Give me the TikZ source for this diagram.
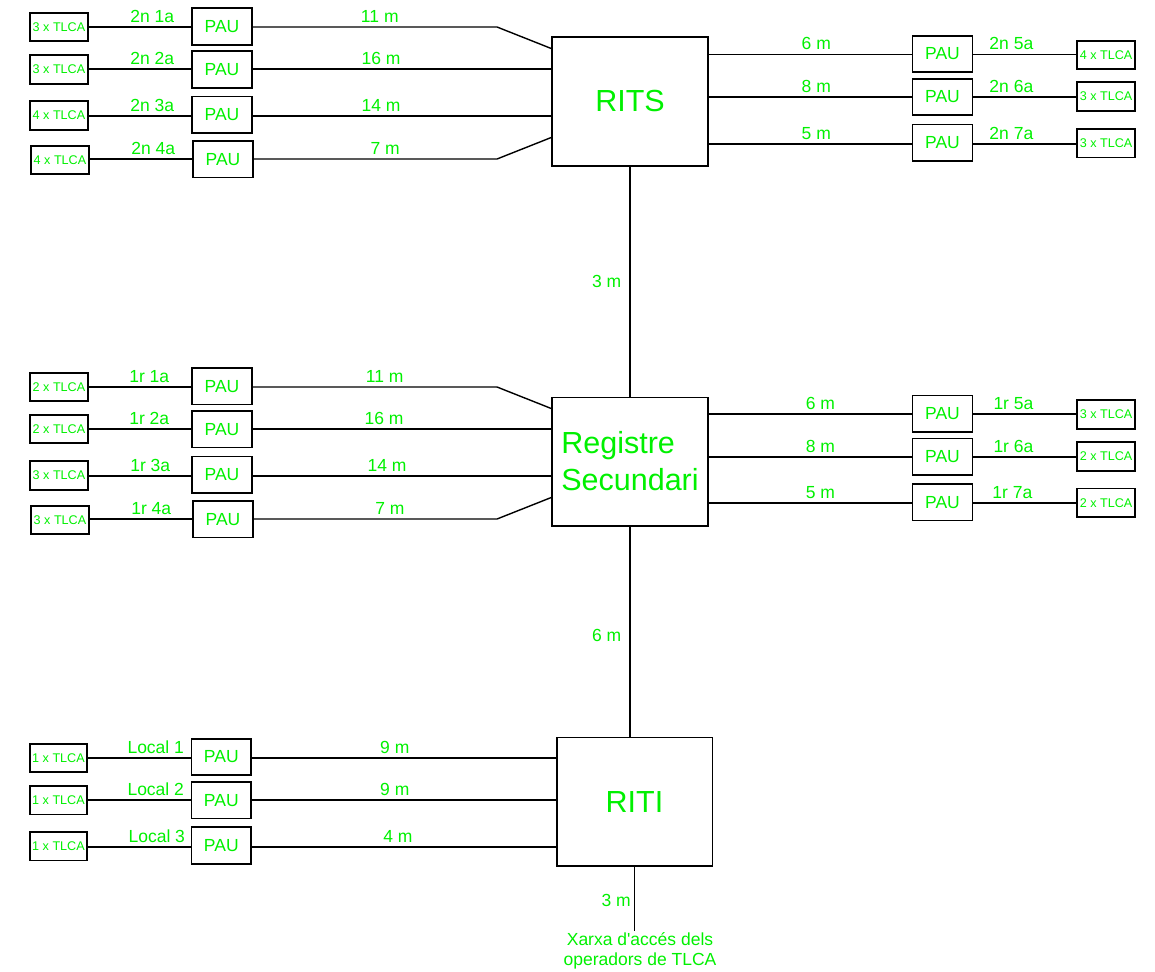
\documentclass[tikz,border=0pt]{standalone}
\usepackage{fontspec}
\setmainfont{Liberation Sans}
\usepackage{tikz}
\usetikzlibrary{positioning}
\definecolor{txtGreen}{HTML}{00F000}
\tikzset{
	tlca/.style={draw, line width=1.6pt, minimum width=58pt, minimum height=28.5pt, inner sep=0pt, text=txtGreen, font=\fontsize{12.6}{14}\selectfont},
	pau/.style={draw, line width=1.6pt, minimum width=60pt, minimum height=36.5pt, inner sep=0pt, text=txtGreen, font=\fontsize{17.5}{20}\selectfont},
	regbox/.style={draw, line width=1.5pt, minimum width=156pt, minimum height=128.5pt, inner sep=0pt, text=txtGreen, font=\fontsize{30.5}{37}\selectfont},
	lbl/.style={above, inner sep=4pt, text=txtGreen, font=\fontsize{17.5}{20}\selectfont}
}

\begin{document}
\begin{tikzpicture}[x=1pt, y=-1pt, line width=1.4pt]
	\useasboundingbox (0,0) rectangle (1155,971);
	
	\node[regbox] (rits) at (630,101.5) {RITS};
	\node[regbox, align=left] (rs) at (630,461.5) {Registre\\Secundari};
	\node[regbox, minimum width=155.5pt] (riti) at (634.5,801.5) {RITI};
	\node[lbl, anchor=north, inner sep=1pt, align=center, font=\fontsize{17.5}{20}\selectfont] (xarxa) at (640,931) {Xarxa d\textquotesingle accés dels\\operadors de TLCA};
	
	\draw (rits) -- node[lbl, left, inner sep=8pt] {3 m} (rs);
	\draw (rs) -- node[lbl, left, inner sep=8pt, pos=.52] {6 m} (rs.south |- riti.north);
	\draw (riti.south) -- node[lbl, left, inner sep=3pt, pos=.52] {3 m} (riti.south |- xarxa.north);
	
	% 2n planta
	\node[tlca] (tA1) at (59,27) {3 x TLCA};   \node[pau] (pA1) at (222,26.5) {PAU};
	\node[tlca] (tA2) at (59,69.5) {3 x TLCA}; \node[pau] (pA2) at (222,69.5) {PAU};
	\node[tlca] (tA3) at (59,115.5) {4 x TLCA};\node[pau] (pA3) at (222,114.7) {PAU};
	\node[tlca] (tA4) at (60,160) {4 x TLCA};  \node[pau] (pA4) at (223,159.2) {PAU};
	\node[pau] (pA5) at (942.5,54) {PAU};      \node[tlca] (tA5) at (1106,55) {4 x TLCA};
	\node[pau] (pA6) at (942.5,97) {PAU};      \node[tlca] (tA6) at (1106,96.5) {3 x TLCA};
	\node[pau] (pA7) at (942.5,142.7) {PAU};   \node[tlca] (tA7) at (1106,143.2) {3 x TLCA};
	
	\draw (tA1.east |- 0,27) -- node[lbl, pos=.62] {2n 1a} (pA1.west |- 0,27);
	\draw (tA2.east |- 0,69) -- node[lbl, pos=.62] {2n 2a} (pA2.west |- 0,69);
	\draw (tA3.east |- 0,116) -- node[lbl, pos=.62] {2n 3a} (pA3.west |- 0,116);
	\draw (tA4.east |- 0,159) -- node[lbl, pos=.62] {2n 4a} (pA4.west |- 0,159);
	\draw (pA1.east |- 0,27) -- node[lbl, pos=.52] {11 m} (497,27) -- ([yshift=-12pt]rits.north west);
	\draw (pA2.east |- 0,69) -- node[lbl, pos=.43] {16 m} (rits.west |- 0,69);
	\draw (pA3.east |- 0,116) -- node[lbl, pos=.43] {14 m} (rits.west |- 0,116);
	\draw (pA4.east |- 0,159) -- node[lbl, pos=.54] {7 m} (497,159) -- ([yshift=29pt]rits.south west);
	\draw (rits.east |- 0,54.5) -- node[lbl, pos=.53] {6 m} (pA5.west |- 0,54.5);
	\draw (rits.east |- 0,97) -- node[lbl, pos=.53] {8 m} (pA6.west |- 0,97);
	\draw (rits.east |- 0,144) -- node[lbl, pos=.53] {5 m} (pA7.west |- 0,144);
	\draw (pA5.east |- 0,54.5) -- node[lbl, pos=.37] {2n 5a} (tA5.west |- 0,54.5);
	\draw (pA6.east |- 0,97) -- node[lbl, pos=.37] {2n 6a} (tA6.west |- 0,97);
	\draw (pA7.east |- 0,144) -- node[lbl, pos=.37] {2n 7a} (tA7.west |- 0,144);
	
	% 1r planta
	\node[tlca] (tB1) at (59,387) {2 x TLCA};  \node[pau] (pB1) at (222,386.2) {PAU};
	\node[tlca] (tB2) at (59,429) {2 x TLCA};  \node[pau] (pB2) at (222,429.3) {PAU};
	\node[tlca] (tB3) at (59,475.5) {3 x TLCA};\node[pau] (pB3) at (222,474.7) {PAU};
	\node[tlca] (tB4) at (60,520) {3 x TLCA};  \node[pau] (pB4) at (223,519.2) {PAU};
	\node[pau] (pB5) at (942.5,413.7) {PAU};   \node[tlca] (tB5) at (1106,414.5) {3 x TLCA};
	\node[pau] (pB6) at (942.5,456.7) {PAU};   \node[tlca] (tB6) at (1106,456.5) {2 x TLCA};
	\node[pau] (pB7) at (942.5,502.4) {PAU};   \node[tlca] (tB7) at (1106,502.8) {2 x TLCA};
	
	\draw (tB1.east |- 0,387) -- node[lbl, pos=.59] {1r 1a} (pB1.west |- 0,387);
	\draw (tB2.east |- 0,429) -- node[lbl, pos=.59] {1r 2a} (pB2.west |- 0,429);
	\draw (tB3.east |- 0,476) -- node[lbl, pos=.6] {1r 3a} (pB3.west |- 0,476);
	\draw (tB4.east |- 0,519) -- node[lbl, pos=.6] {1r 4a} (pB4.west |- 0,519);
	\draw (pB1.east |- 0,387) -- node[lbl, pos=.54] {11 m} (497,387) -- ([yshift=-12pt]rs.north west);
	\draw (pB2.east |- 0,429) -- node[lbl, pos=.44] {16 m} (rs.west |- 0,429);
	\draw (pB3.east |- 0,476) -- node[lbl, pos=.45] {14 m} (rs.west |- 0,476);
	\draw (pB4.east |- 0,519) -- node[lbl, pos=.56] {7 m} (497,519) -- ([yshift=29pt]rs.south west);
	\draw (rs.east |- 0,414) -- node[lbl, pos=.55] {6 m} (pB5.west |- 0,414);
	\draw (rs.east |- 0,457) -- node[lbl, pos=.55] {8 m} (pB6.west |- 0,457);
	\draw (rs.east |- 0,503) -- node[lbl, pos=.55] {5 m} (pB7.west |- 0,503);
	\draw (pB5.east |- 0,414) -- node[lbl, pos=.39] {1r 5a} (tB5.west |- 0,414);
	\draw (pB6.east |- 0,457) -- node[lbl, pos=.39] {1r 6a} (tB6.west |- 0,457);
	\draw (pB7.east |- 0,503) -- node[lbl, pos=.38] {1r 7a} (tB7.west |- 0,503);
	
	% planta baixa
	\node[tlca, minimum width=57pt] (tC1) at (58.5,758) {1 x TLCA};  \node[pau, minimum width=59.5pt] (pC1) at (221.3,757) {PAU};
	\node[tlca, minimum width=57pt] (tC2) at (58.5,800.3) {1 x TLCA};\node[pau, minimum width=59.5pt] (pC2) at (221.3,800.2) {PAU};
	\node[tlca, minimum width=57pt] (tC3) at (58.5,846.2) {1 x TLCA};\node[pau, minimum width=59.5pt] (pC3) at (221.3,845.5) {PAU};
	
	\draw (tC1.east |- 0,758) -- node[lbl, pos=.66] {Local 1} (pC1.west |- 0,758);
	\draw (tC2.east |- 0,800) -- node[lbl, pos=.66] {Local 2} (pC2.west |- 0,800);
	\draw (tC3.east |- 0,847) -- node[lbl, pos=.67] {Local 3} (pC3.west |- 0,847);
	\draw (pC1.east |- 0,758) -- node[lbl, pos=.47] {9 m} (riti.west |- 0,758);
	\draw (pC2.east |- 0,800) -- node[lbl, pos=.47] {9 m} (riti.west |- 0,800);
	\draw (pC3.east |- 0,847) -- node[lbl, pos=.48] {4 m} (riti.west |- 0,847);
\end{tikzpicture}
\end{document}
